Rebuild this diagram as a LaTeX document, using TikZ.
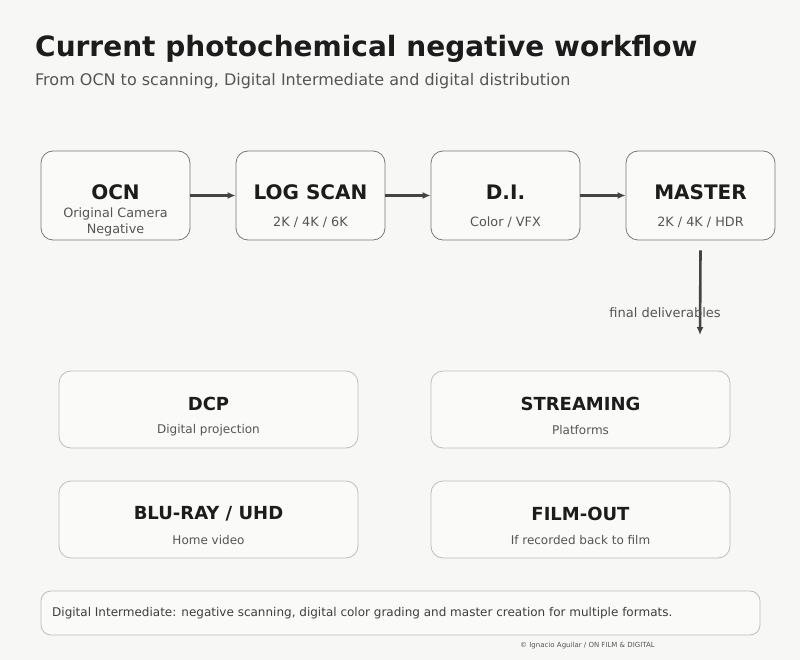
\documentclass[tikz,border=0pt]{standalone}
\usepackage{fontspec}
\setmainfont{DejaVu Sans}
\usepackage{xcolor}
\usetikzlibrary{arrows.meta,calc}

\definecolor{paper}{HTML}{F7F7F5}
\definecolor{boxfill}{HTML}{FAFAF8}
\definecolor{ink}{HTML}{1C1C1C}
\definecolor{softink}{HTML}{555555}
\definecolor{stageline}{HTML}{7A7A7A}
\definecolor{outline}{HTML}{BDBDBD}
\definecolor{flowc}{HTML}{444444}

\begin{document}
\begin{tikzpicture}[x=1pt, y=-1pt,
    stage/.style={draw=stageline, fill=boxfill, line width=0.8pt, rounded corners=12pt,
                  minimum width=149pt, minimum height=89pt, inner sep=0pt},
    outlet/.style={draw=outline, fill=boxfill, line width=0.8pt, rounded corners=12pt,
                   minimum width=299pt, minimum height=77pt, inner sep=0pt},
    heading/.style={text=ink, font=\fontsize{20}{24}\selectfont\bfseries, inner sep=0pt},
    subheading/.style={text=ink, font=\fontsize{18}{22}\selectfont\bfseries, inner sep=0pt},
    detail/.style={text=softink, font=\fontsize{12.8}{16}\selectfont, align=center, inner sep=0pt},
    smalldetail/.style={detail, font=\fontsize{12}{15}\selectfont},
    flow/.style={draw=flowc, line width=2.6pt, -{Latex[length=8pt,width=7pt]}}]

    % page
    \fill[paper] (0,0) rectangle (800,660);

    % heading block
    \node[anchor=base west, text=ink, inner sep=0pt, font=\fontsize{28}{34}\selectfont\bfseries]
        (title) at (35,57) {Current photochemical negative workflow};
    \node[anchor=base west, text=softink, inner sep=0pt, font=\fontsize{16}{19}\selectfont]
        (subtitle) at (35,85.5) {From OCN to scanning, Digital Intermediate and digital distribution};

    % pipeline stages
    \foreach \name/\x/\ttl/\sub in {ocn/115.5/OCN/{Original Camera\\Negative},
                                    scan/310.5/LOG SCAN/{2K / 4K / 6K},
                                    di/505.5/D.I./{Color / VFX},
                                    master/700.5/MASTER/{2K / 4K / HDR}} {
        \node[stage] (\name) at (\x,195.5) {};
        \node[heading] (\name-ttl) at ($(\name.center)+(0,-3.5)$) {\ttl};
        \node[detail] (\name-sub) at ($(\name.center)+(0,26.5)$) {\sub};
    }
    \foreach \a/\b in {ocn/scan, scan/di, di/master}
        \draw[flow] (\a.east) -- (\b.west);

    % hand-off to the deliverables
    \coordinate (deliv) at (700,335);
    \draw[flow] ([yshift=-10pt]master.south) -- (deliv);
    \node[text=softink, font=\fontsize{13}{16}\selectfont, inner sep=0pt] (deliv-lbl) at (665,313) {final deliverables};

    % deliverables
    \foreach \name/\x/\y/\ttl/\sub in {dcp/208.5/409.5/DCP/Digital projection,
                                       stream/580.5/409.5/STREAMING/Platforms,
                                       bluray/208.5/519.5/{BLU-RAY / UHD}/Home video,
                                       filmout/580.5/519.5/FILM-OUT/If recorded back to film} {
        \node[outlet] (\name) at (\x,\y) {};
        \node[subheading] (\name-ttl) at ($(\name.center)+(0,-5.5)$) {\ttl};
        \node[smalldetail] (\name-sub) at ($(\name.center)+(0,20.5)$) {\sub};
    }

    % note + credit
    \node[draw=outline, fill=boxfill, line width=0.8pt, rounded corners=10pt,
          minimum width=719pt, minimum height=44pt, inner sep=0pt] (note) at (400.5,613) {};
    \node[anchor=west, text=ink!85, inner sep=0pt, font=\fontsize{12}{15}\selectfont] (note-txt) at (52,613)
        {Digital Intermediate: negative scanning, digital color grading and master creation for multiple formats.};
    \node[anchor=west, text=softink, inner sep=0pt, font=\fontsize{7}{8}\selectfont] (credit) at (520,646)
        {© Ignacio Aguilar / ON FILM \& DIGITAL};
\end{tikzpicture}
\end{document}
